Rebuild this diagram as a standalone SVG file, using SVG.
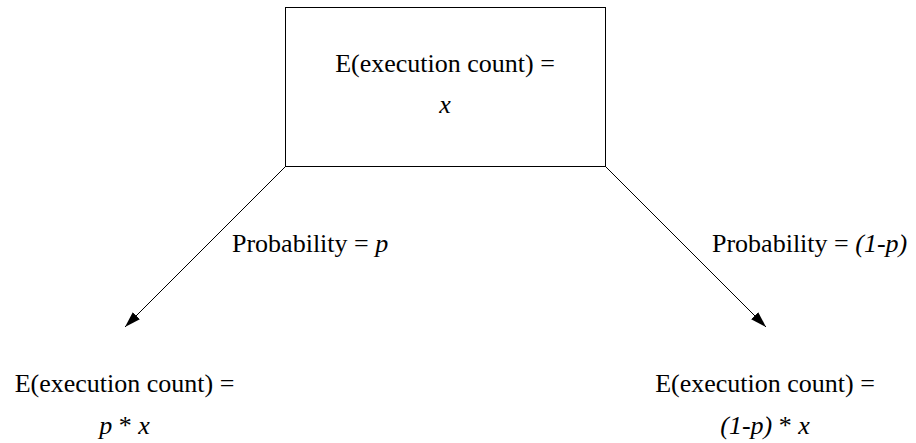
<svg xmlns="http://www.w3.org/2000/svg" width="916" height="443" viewBox="0 0 916 443">
<style>
text{font-family:'Liberation Serif','Times New Roman',Times,'DejaVu Serif',serif;font-size:26px;fill:#000}
.c{text-anchor:middle}
.i{font-style:italic}
.edge{stroke:#000;stroke-width:1;fill:none}
</style>
<defs>
<marker id="ah" viewBox="0 0 16 10" refX="16" refY="5" markerWidth="16" markerHeight="10" markerUnits="userSpaceOnUse" orient="auto">
<path d="M0,0 L16,5 L0,10 Z" fill="#000"/>
</marker>
</defs>
<rect width="916" height="443" fill="#fff"/>
<g id="root">
<rect x="285.5" y="7.5" width="320" height="159" fill="#fff" stroke="#000" stroke-width="1"/>
<text class="c" x="445" y="72" font-family="Liberation Serif">E(execution count) =</text>
<text class="c i" x="445" y="113" font-family="Liberation Serif">x</text>
</g>
<g id="connectors">
<line class="edge" x1="285.5" y1="166.5" x2="125" y2="327" marker-end="url(#ah)"/>
<line class="edge" x1="605.5" y1="166.5" x2="766" y2="327" marker-end="url(#ah)"/>
<text x="232" y="252" font-family="Liberation Serif">Probability = <tspan class="i">p</tspan></text>
<text x="712" y="252" font-family="Liberation Serif">Probability = <tspan class="i">(1-p)</tspan></text>
</g>
<g id="left">
<text class="c" x="124.5" y="392" font-family="Liberation Serif">E(execution count) =</text>
<text class="c" x="124.5" y="434" font-family="Liberation Serif"><tspan class="i">p</tspan> * <tspan class="i">x</tspan></text>
</g>
<g id="right">
<text class="c" x="765" y="392" font-family="Liberation Serif">E(execution count) =</text>
<text class="c" x="765" y="434" font-family="Liberation Serif"><tspan class="i">(1-p)</tspan> * <tspan class="i">x</tspan></text>
</g>
</svg>
